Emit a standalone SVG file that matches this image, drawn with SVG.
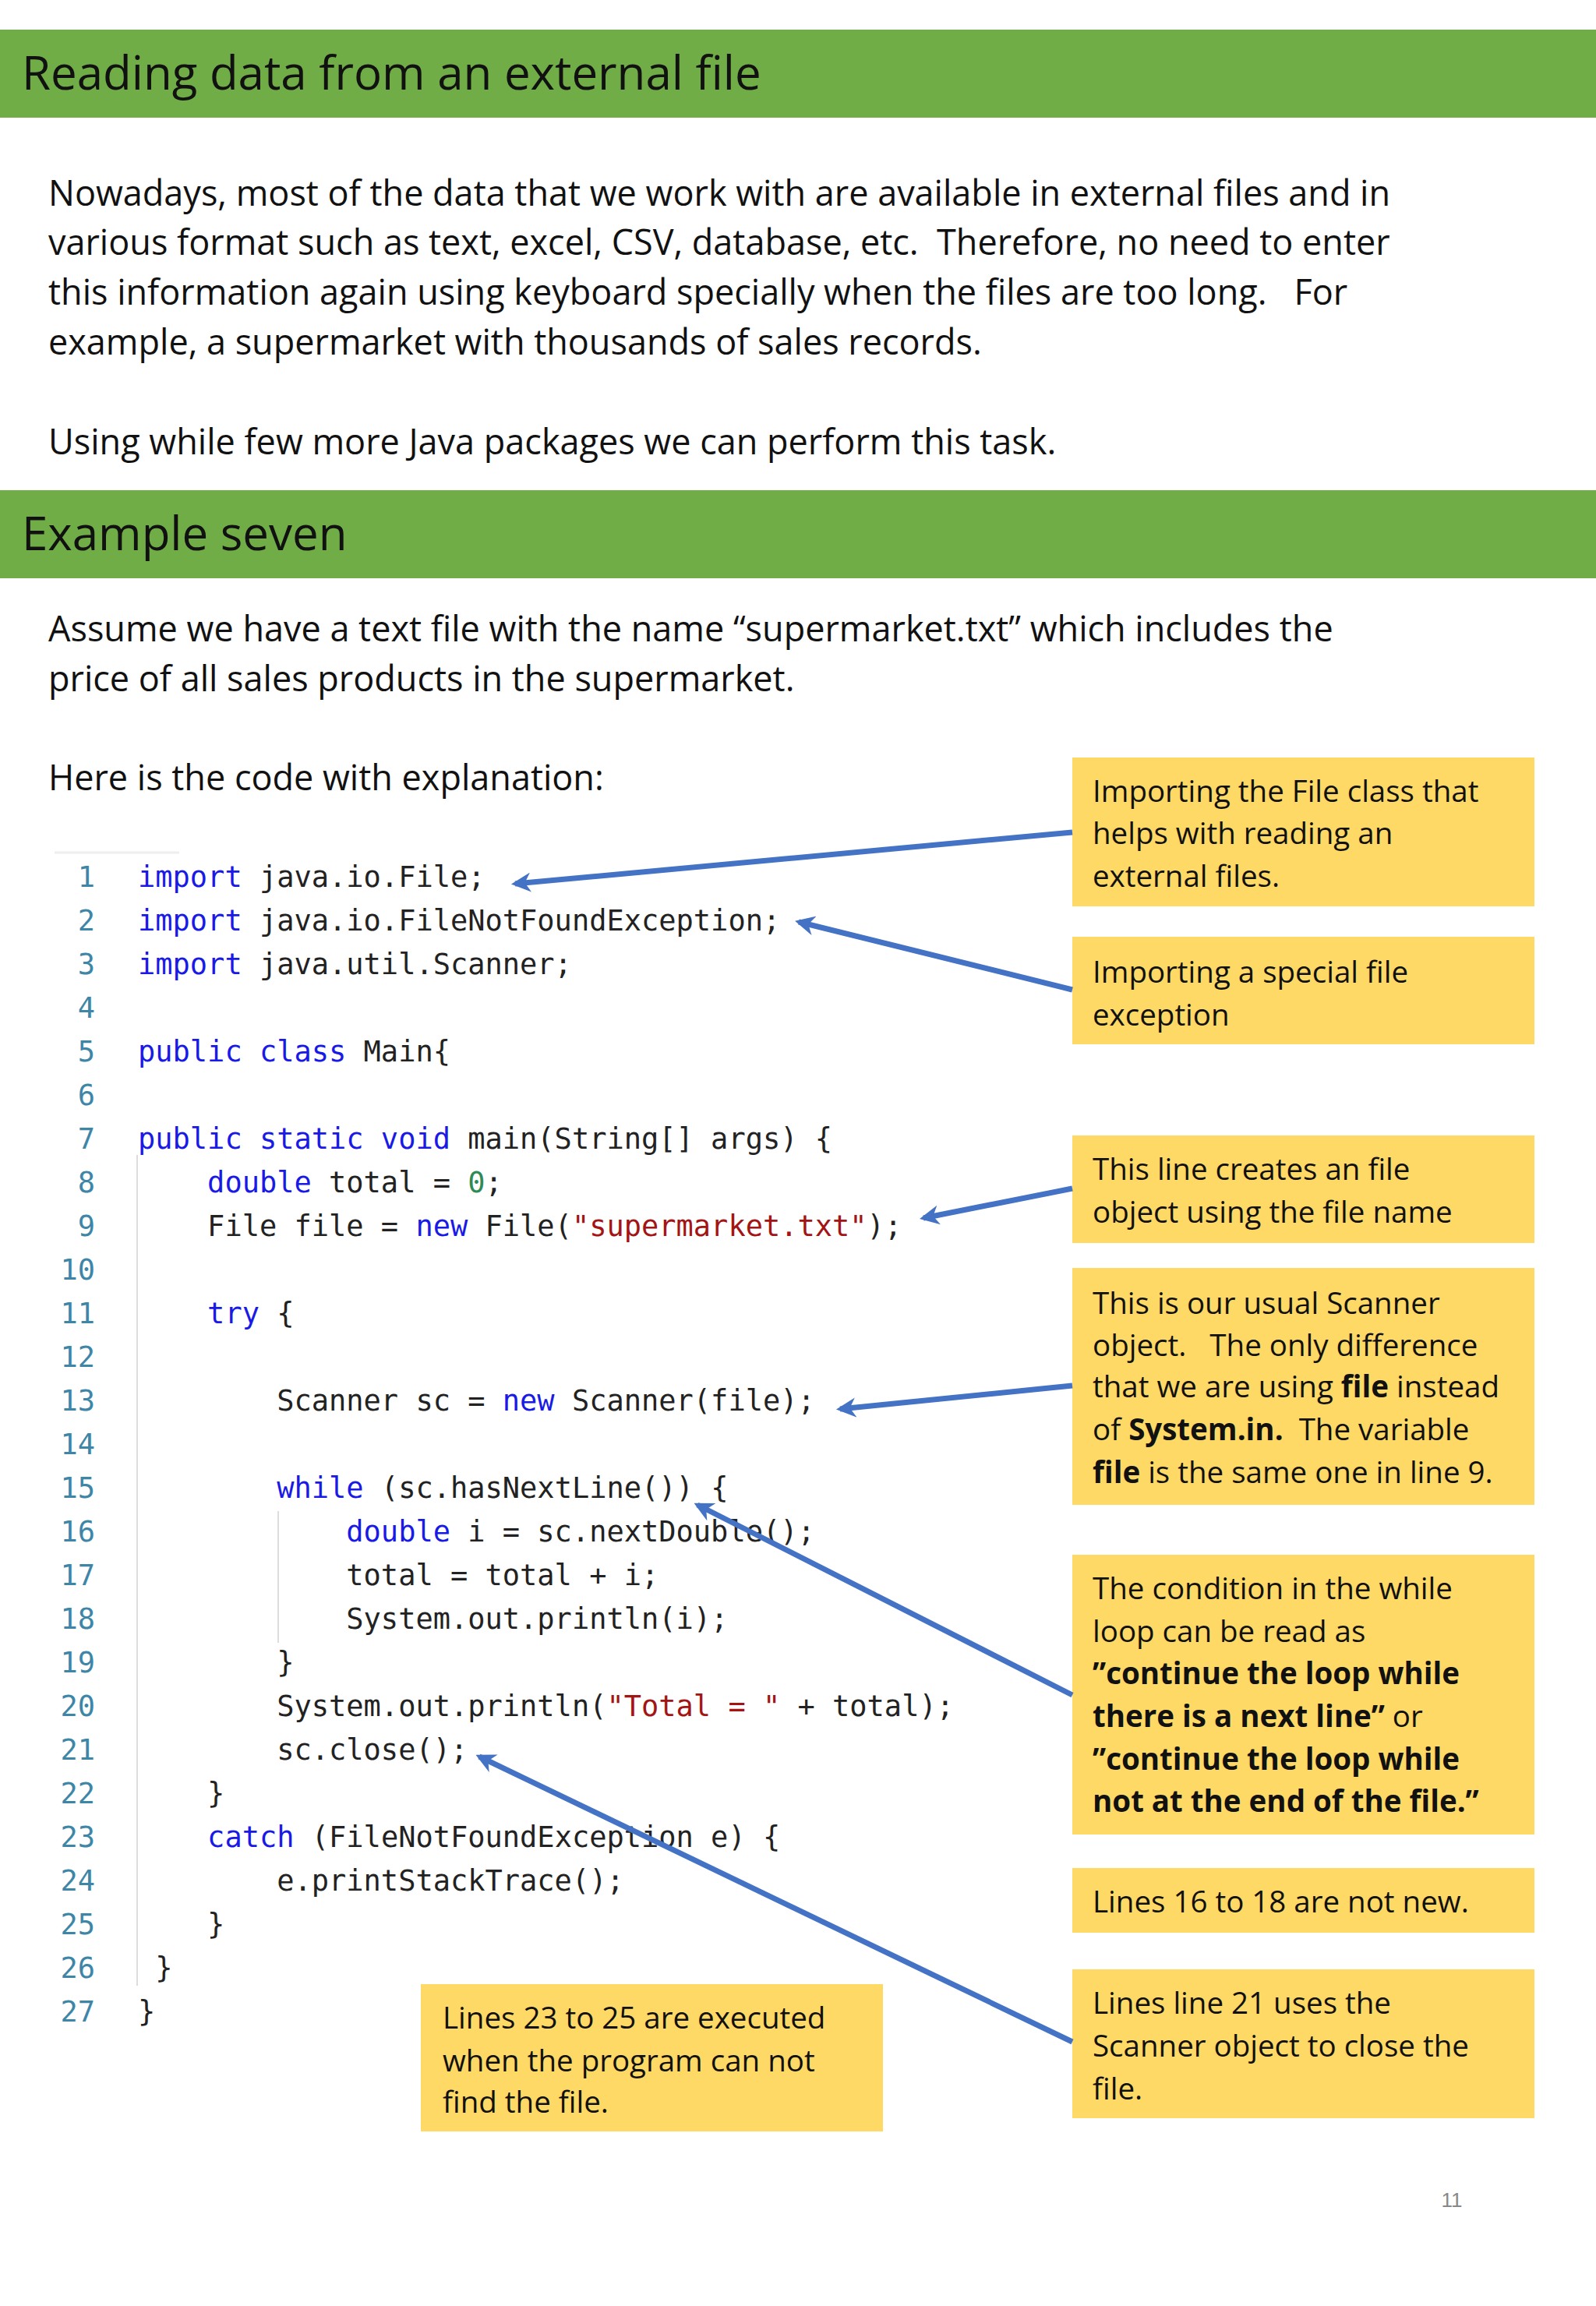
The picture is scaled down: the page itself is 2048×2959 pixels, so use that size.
<svg xmlns="http://www.w3.org/2000/svg" width="2048" height="2959" viewBox="0 0 2048 2959">
<style>
.hd{fill:#70AD47}
.ht{font-family:"Open Sans","Liberation Sans",sans-serif;font-size:60px;fill:#111}
.bt{font-family:"Open Sans","Liberation Sans",sans-serif;font-size:45px;fill:#111;white-space:pre}
.box{fill:#FFD966}
.bx{font-family:"Open Sans","Liberation Sans",sans-serif;font-size:38.5px;fill:#111;white-space:pre}
.cd{font-family:"DejaVu Sans Mono",monospace;font-size:37px;fill:#222;white-space:pre}
.ln{font-family:"DejaVu Sans Mono",monospace;font-size:37px;fill:#3E86A8;text-anchor:end}
.k{fill:#1A1AE6}.s{fill:#A31515}.n{fill:#2E8B57}
.ar{stroke:#4472C4;stroke-width:7;fill:none;marker-end:url(#ah)}
.b{font-weight:bold}
</style>
<defs><marker id="ah" viewBox="0 0 10 10" refX="8" refY="5" markerWidth="3.6" markerHeight="3.6" orient="auto" markerUnits="strokeWidth"><path d="M0,0 L10,5 L0,10 L3,5 z" fill="#4472C4"/></marker></defs>
<rect width="2048" height="2959" fill="#fff"/>
<g id="header1"><rect class="hd" x="0" y="38" width="2048" height="113"/><text class="ht" x="28" y="115">Reading data from an external file</text></g>
<g id="intro">
<text class="bt" x="62" y="264">Nowadays, most of the data that we work with are available in external files and in</text>
<text class="bt" x="62" y="327">various format such as text, excel, CSV, database, etc.  Therefore, no need to enter</text>
<text class="bt" x="62" y="391">this information again using keyboard specially when the files are too long.   For</text>
<text class="bt" x="62" y="455">example, a supermarket with thousands of sales records.</text>
<text class="bt" x="62" y="583">Using while few more Java packages we can perform this task.</text>
</g>
<g id="header2"><rect class="hd" x="0" y="629" width="2048" height="113"/><text class="ht" x="28" y="706">Example seven</text></g>
<g id="desc">
<text class="bt" x="62" y="823">Assume we have a text file with the name “supermarket.txt” which includes the</text>
<text class="bt" x="62" y="887">price of all sales products in the supermarket.</text>
<text class="bt" x="62" y="1014">Here is the code with explanation:</text>
</g>
<g id="code">
<line x1="70" y1="1094" x2="230" y2="1094" stroke="#eee" stroke-width="3"/>
<line x1="176" y1="1482" x2="176" y2="2548" stroke="#ddd" stroke-width="2"/>
<line x1="357" y1="1939" x2="357" y2="2108" stroke="#ddd" stroke-width="2"/>
<g>
<text class="ln" x="122" y="1138">1</text><text class="ln" x="122" y="1194">2</text><text class="ln" x="122" y="1250">3</text><text class="ln" x="122" y="1306">4</text><text class="ln" x="122" y="1362">5</text><text class="ln" x="122" y="1418">6</text><text class="ln" x="122" y="1474">7</text><text class="ln" x="122" y="1530">8</text><text class="ln" x="122" y="1586">9</text><text class="ln" x="122" y="1642">10</text><text class="ln" x="122" y="1698">11</text><text class="ln" x="122" y="1754">12</text><text class="ln" x="122" y="1810">13</text><text class="ln" x="122" y="1866">14</text><text class="ln" x="122" y="1922">15</text><text class="ln" x="122" y="1978">16</text><text class="ln" x="122" y="2034">17</text><text class="ln" x="122" y="2090">18</text><text class="ln" x="122" y="2146">19</text><text class="ln" x="122" y="2202">20</text><text class="ln" x="122" y="2258">21</text><text class="ln" x="122" y="2314">22</text><text class="ln" x="122" y="2370">23</text><text class="ln" x="122" y="2426">24</text><text class="ln" x="122" y="2482">25</text><text class="ln" x="122" y="2538">26</text><text class="ln" x="122" y="2594">27</text>
</g>
<text class="cd" x="177" y="1138"><tspan class="k">import</tspan> java.io.File;</text>
<text class="cd" x="177" y="1194"><tspan class="k">import</tspan> java.io.FileNotFoundException;</text>
<text class="cd" x="177" y="1250"><tspan class="k">import</tspan> java.util.Scanner;</text>
<text class="cd" x="177" y="1362"><tspan class="k">public class</tspan> Main{</text>
<text class="cd" x="177" y="1474"><tspan class="k">public static void</tspan> main(String[] args) {</text>
<text class="cd" x="177" y="1530">    <tspan class="k">double</tspan> total = <tspan class="n">0</tspan>;</text>
<text class="cd" x="177" y="1586">    File file = <tspan class="k">new</tspan> File(<tspan class="s">"supermarket.txt"</tspan>);</text>
<text class="cd" x="177" y="1698">    <tspan class="k">try</tspan> {</text>
<text class="cd" x="177" y="1810">        Scanner sc = <tspan class="k">new</tspan> Scanner(file);</text>
<text class="cd" x="177" y="1922">        <tspan class="k">while</tspan> (sc.hasNextLine()) {</text>
<text class="cd" x="177" y="1978">            <tspan class="k">double</tspan> i = sc.nextDouble();</text>
<text class="cd" x="177" y="2034">            total = total + i;</text>
<text class="cd" x="177" y="2090">            System.out.println(i);</text>
<text class="cd" x="177" y="2146">        }</text>
<text class="cd" x="177" y="2202">        System.out.println(<tspan class="s">"Total = "</tspan> + total);</text>
<text class="cd" x="177" y="2258">        sc.close();</text>
<text class="cd" x="177" y="2314">    }</text>
<text class="cd" x="177" y="2370">    <tspan class="k">catch</tspan> (FileNotFoundException e) {</text>
<text class="cd" x="177" y="2426">        e.printStackTrace();</text>
<text class="cd" x="177" y="2482">    }</text>
<text class="cd" x="177" y="2538"> }</text>
<text class="cd" x="177" y="2594">}</text>
</g>
<g id="note1"><rect class="box" x="1376" y="972" width="593" height="191"/>
<text class="bx" x="1402" y="1029">Importing the File class that</text><text class="bx" x="1402" y="1083">helps with reading an</text><text class="bx" x="1402" y="1138">external files.</text></g>
<g id="note2"><rect class="box" x="1376" y="1202" width="593" height="138"/>
<text class="bx" x="1402" y="1261">Importing a special file</text><text class="bx" x="1402" y="1316">exception</text></g>
<g id="note3"><rect class="box" x="1376" y="1457" width="593" height="138"/>
<text class="bx" x="1402" y="1514">This line creates an file</text><text class="bx" x="1402" y="1569">object using the file name</text></g>
<g id="note4"><rect class="box" x="1376" y="1627" width="593" height="304"/>
<text class="bx" x="1402" y="1686">This is our usual Scanner</text><text class="bx" x="1402" y="1740">object.   The only difference</text><text class="bx" x="1402" y="1793">that we are using <tspan class="b">file</tspan> instead</text><text class="bx" x="1402" y="1848">of <tspan class="b">System.in.</tspan>  The variable</text><text class="bx" x="1402" y="1903"><tspan class="b">file</tspan> is the same one in line 9.</text></g>
<g id="note5"><rect class="box" x="1376" y="1995" width="593" height="359"/>
<text class="bx" x="1402" y="2052">The condition in the while</text><text class="bx" x="1402" y="2107">loop can be read as</text><text class="bx b" x="1402" y="2161">”continue the loop while</text><text class="bx" x="1402" y="2216"><tspan class="b">there is a next line”</tspan> or</text><text class="bx b" x="1402" y="2271">”continue the loop while</text><text class="bx b" x="1402" y="2325">not at the end of the file.”</text></g>
<g id="note6"><rect class="box" x="1376" y="2397" width="593" height="83"/>
<text class="bx" x="1402" y="2454">Lines 16 to 18 are not new.</text></g>
<g id="note7"><rect class="box" x="1376" y="2527" width="593" height="191"/>
<text class="bx" x="1402" y="2584">Lines line 21 uses the</text><text class="bx" x="1402" y="2639">Scanner object to close the</text><text class="bx" x="1402" y="2694">file.</text></g>
<g id="note8"><rect class="box" x="540" y="2546" width="593" height="189"/>
<text class="bx" x="568" y="2603">Lines 23 to 25 are executed</text><text class="bx" x="568" y="2658">when the program can not</text><text class="bx" x="568" y="2711">find the file.</text></g>
<g id="connectors">
<line class="ar" x1="1376" y1="1068" x2="661" y2="1134"/>
<line class="ar" x1="1376" y1="1270" x2="1025" y2="1183"/>
<line class="ar" x1="1376" y1="1525" x2="1185" y2="1563"/>
<line class="ar" x1="1376" y1="1778" x2="1078" y2="1808"/>
<line class="ar" x1="1376" y1="2175" x2="895" y2="1931"/>
<line class="ar" x1="1376" y1="2620" x2="615" y2="2254"/>
</g>
<text x="1863" y="2832" font-family="Liberation Sans,sans-serif" font-size="26" fill="#888" text-anchor="middle">11</text>
</svg>
